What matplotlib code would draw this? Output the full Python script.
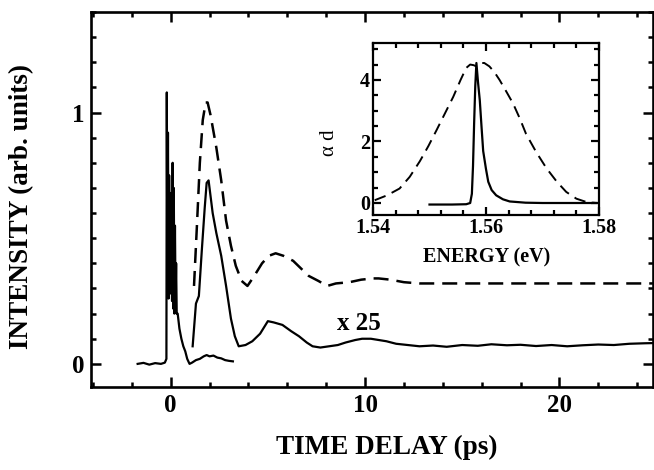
import matplotlib
matplotlib.use("Agg")
import matplotlib.pyplot as plt
from matplotlib.ticker import MultipleLocator, FormatStrFormatter

# raw signal (unscaled), solid
raw_t = [-1.7, -1.4, -1.1, -0.8, -0.5, -0.3, -0.22, -0.2, -0.17, -0.14, -0.11, -0.08,
         -0.05, -0.02, 0.01, 0.04, 0.07, 0.1, 0.13, 0.16, 0.19, 0.22, 0.25, 0.28, 0.31,
         0.36, 0.45, 0.55, 0.65, 0.75, 0.85, 0.97, 1.1, 1.3, 1.5, 1.7, 1.85, 2.0, 2.2,
         2.4, 2.6, 2.8, 3.0, 3.2]
raw_y = [0.0, 0.004, -0.003, 0.003, 0.0, 0.005, 0.02, 1.08, 0.30, 0.92, 0.26, 0.75,
         0.35, 0.68, 0.28, 0.62, 0.25, 0.80, 0.22, 0.70, 0.20, 0.55, 0.25, 0.40, 0.20,
         0.20, 0.14, 0.10, 0.07, 0.05, 0.02, 0.0, 0.005, 0.015, 0.02, 0.03, 0.035,
         0.03, 0.033, 0.025, 0.022, 0.015, 0.012, 0.01]

# x25 signal, solid
x25_t = [1.13, 1.3, 1.45, 1.6, 1.75, 1.85, 1.95, 2.16, 2.35, 2.6, 2.85, 3.1, 3.3, 3.5,
         3.85, 4.2, 4.6, 5.0, 5.3, 5.75, 6.2, 6.6, 7.0, 7.3, 7.7, 8.15, 8.6, 9.0, 9.5,
         9.85, 10.3, 10.7, 11.1, 11.6, 12.2, 12.8, 13.5, 14.2, 15.0, 15.8, 16.5, 17.3,
         18.0, 18.8, 19.6, 20.4, 21.2, 22.0, 22.8, 23.6, 24.4, 25.0]
x25_y = [0.07, 0.24, 0.27, 0.45, 0.62, 0.72, 0.73, 0.60, 0.52, 0.43, 0.31, 0.18, 0.11,
         0.07, 0.075, 0.09, 0.12, 0.17, 0.165, 0.155, 0.13, 0.11, 0.085, 0.07, 0.065,
         0.07, 0.075, 0.085, 0.095, 0.10, 0.10, 0.095, 0.09, 0.08, 0.075, 0.07, 0.073,
         0.068, 0.075, 0.072, 0.078, 0.074, 0.076, 0.071, 0.075, 0.07, 0.074, 0.077,
         0.075, 0.08, 0.082, 0.083]

# dashed trace
dash_t = [1.2, 1.35, 1.5, 1.65, 1.8, 1.9, 2.05, 2.35, 2.6, 2.85, 3.1, 3.35, 3.65, 3.95,
          4.3, 4.7, 5.05, 5.4, 5.8, 6.3, 6.7, 7.1, 7.6, 8.05, 8.5, 9.2, 9.8, 10.4, 10.7,
          11.3, 12.0, 12.8, 14.0, 16.0, 18.0, 20.0, 22.0, 24.0, 25.0]
dash_y = [0.31, 0.55, 0.80, 0.97, 1.04, 1.04, 0.99, 0.86, 0.73, 0.57, 0.47, 0.39, 0.33,
          0.31, 0.35, 0.40, 0.43, 0.44, 0.43, 0.41, 0.38, 0.35, 0.33, 0.31, 0.32,
          0.325, 0.335, 0.34, 0.34, 0.335, 0.325, 0.32, 0.32, 0.32, 0.32, 0.32, 0.32,
          0.32, 0.32]

# inset: absorption spectrum (dashed) and emission line (solid)
abs_e = [1.5403, 1.5425, 1.5447, 1.5465, 1.5483, 1.5498, 1.5512, 1.5527, 1.5542,
         1.5555, 1.5565, 1.5572, 1.5578, 1.5583, 1.5590, 1.5597, 1.5606, 1.5615,
         1.5624, 1.5636, 1.5648, 1.5660, 1.5671, 1.5689, 1.5707, 1.5725, 1.5742,
         1.5760, 1.5778, 1.5795]
abs_y = [0.09, 0.25, 0.47, 0.85, 1.36, 1.85, 2.35, 2.9, 3.45, 4.0, 4.39, 4.50, 4.48,
         4.44, 4.55, 4.55, 4.44, 4.25, 4.0, 3.62, 3.23, 2.74, 2.24, 1.65, 1.13, 0.70,
         0.36, 0.14, 0.03, 0.0]
lum_e = [1.5500, 1.5540, 1.5565, 1.5572, 1.5575, 1.5577, 1.5579, 1.5581, 1.5583,
         1.5586, 1.5589, 1.5592, 1.5595, 1.5600, 1.5604, 1.5610, 1.5618, 1.5630,
         1.5642, 1.5670, 1.5700, 1.5795]
lum_y = [-0.05, -0.05, -0.04, 0.0, 0.3, 1.2, 2.6, 3.8, 4.55, 3.9, 3.34, 2.5, 1.69, 1.1,
         0.69, 0.42, 0.25, 0.12, 0.05, 0.01, 0.0, 0.0]

plt.rcParams['font.family'] = ['Liberation Serif', 'DejaVu Serif']
plt.rcParams['font.weight'] = 'bold'

W, H = 654, 470
fig = plt.figure(figsize=(W / 100, H / 100), dpi=100)

# main axes
ax = fig.add_axes([91 / W, 1 - 387 / H, 1 - 91 / W - 0.002, (387 - 12) / H])
ax.plot(raw_t, raw_y, color='black', lw=1.6)
ax.plot(x25_t, x25_y, color='black', lw=1.6)
ax.plot(dash_t, dash_y, color='black', lw=1.8, dashes=(6, 3.2))
ax.text(8.56, 0.135, 'x 25', fontsize=18, fontweight='bold')

ax.set_xlim(-4.1, 24.8)
ax.set_ylim(-0.092, 1.40)
ax.xaxis.set_major_locator(MultipleLocator(10))
ax.xaxis.set_minor_locator(MultipleLocator(2))
ax.yaxis.set_major_locator(MultipleLocator(1))
ax.yaxis.set_minor_locator(MultipleLocator(0.1))
ax.xaxis.set_major_formatter(FormatStrFormatter('%d'))
ax.yaxis.set_major_formatter(FormatStrFormatter('%d'))
ax.tick_params(which='both', direction='in', top=True, right=True, width=1.8,
               labelsize=18)
ax.tick_params(which='major', length=7.2, pad=5)
ax.tick_params(which='minor', length=3.6)
for s in ax.spines.values():
    s.set_linewidth(1.9)

fig.text(387 / W, 1 - 447 / H, 'TIME DELAY (ps)', fontsize=19.5, fontweight='bold',
         ha='center', va='center')
fig.text(22 / W, 1 - 206 / H, 'INTENSITY (arb. units)', fontsize=19.5,
         fontweight='bold', rotation=90, ha='center', va='center')

# inset
ins = fig.add_axes([373 / W, 1 - 215 / H, 226 / W, 172 / H])
ins.plot(abs_e, abs_y, color='black', lw=1.4, dashes=(6, 3.5))
ins.plot(lum_e, lum_y, color='black', lw=1.6)
ins.set_xlim(1.54, 1.58)
ins.set_ylim(-0.39, 5.2)
ins.xaxis.set_major_locator(MultipleLocator(0.02))
ins.xaxis.set_minor_locator(MultipleLocator(0.004))
ins.yaxis.set_major_locator(MultipleLocator(2))
ins.yaxis.set_minor_locator(MultipleLocator(0.5))
ins.xaxis.set_major_formatter(FormatStrFormatter('%.2f'))
ins.yaxis.set_major_formatter(FormatStrFormatter('%d'))
ins.tick_params(which='both', direction='in', top=True, right=True, width=1.6,
                labelsize=14.5, pad=2)
ins.tick_params(which='major', length=6)
ins.tick_params(which='minor', length=3.5)
for s in ins.spines.values():
    s.set_linewidth(1.6)

fig.text(487 / W, 1 - 257 / H, 'ENERGY (eV)', fontsize=14.5, fontweight='bold',
         ha='center', va='center')
fig.text(329 / W, 1 - 143 / H, 'α d', fontsize=15, fontweight='normal',
         rotation=90, ha='center', va='center')

fig.savefig('out.png', dpi=100)
